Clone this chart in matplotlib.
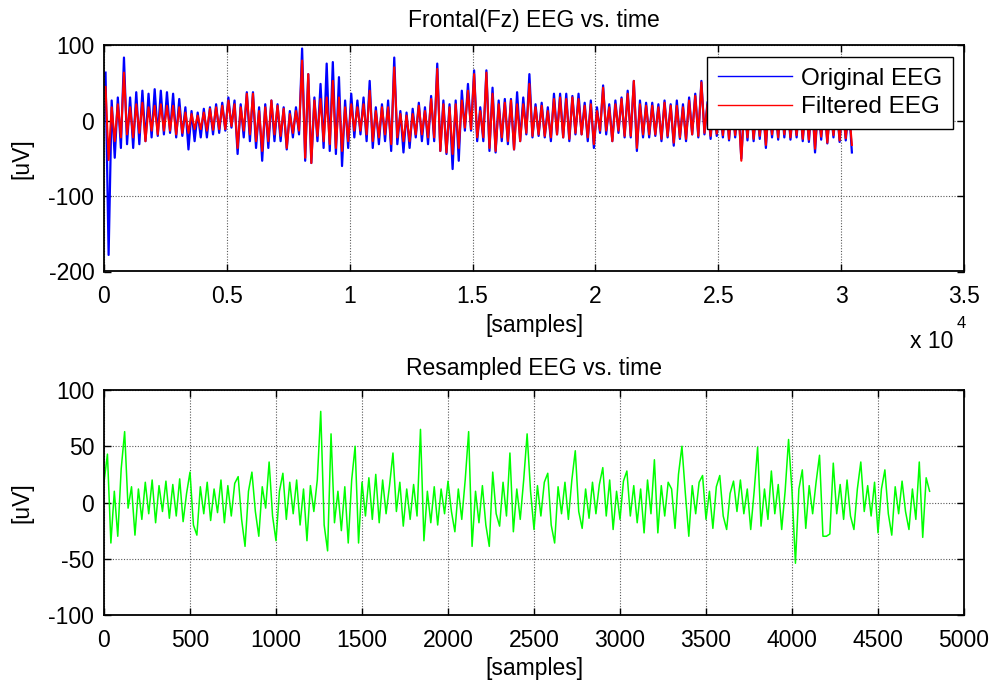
import numpy as np
import matplotlib
matplotlib.use('Agg')
import matplotlib.pyplot as plt

plt.rcParams['font.family'] = ['Liberation Sans', 'DejaVu Sans']
plt.rcParams['font.size'] = 16.5
plt.rcParams['axes.unicode_minus'] = False

# ---- top panel: envelope of the raw / filtered EEG, one hi/lo pair per 250 samples
bin_width = 250
blue_hi = [64, 27, 31, 84, 31, 38, 40, 36, 42, 40,
           38, 36, 29, 18, 13, 11, 16, 18, 22, 24,
           31, 27, 22, 38, 38, 18, 22, 27, 22, 18,
           13, 18, 96, 62, 31, 49, 76, 78, 58, 27,
           36, 27, 31, 53, 18, 22, 27, 84, 13, 11,
           16, 24, 18, 33, 76, 27, 22, 27, 40, 49,
           67, 18, 67, 44, 27, 29, 29, 38, 31, 62,
           22, 24, 18, 36, 36, 36, 33, 36, 24, 27,
           18, 47, 22, 27, 31, 40, 53, 27, 24, 24,
           22, 27, 22, 27, 22, 31, 36, 53,
           25, 28, 22, 30, 26, 24, 28, 31, 22, 25, 27, 24,
           29, 26, 23, 28, 25, 30, 24, 27, 22, 26, 24, 20]
blue_lo = [-178, -49, -36, -31, -36, -31, -27, -22, -20, -18,
           -16, -22, -20, -38, -27, -22, -22, -18, -16, -13,
           -9, -44, -22, -27, -36, -53, -36, -27, -27, -38,
           -22, -18, -53, -56, -27, -36, -40, -44, -60, -36,
           -22, -18, -27, -36, -31, -27, -40, -31, -42, -36,
           -22, -27, -31, -27, -40, -44, -64, -53, -13, -13,
           -27, -27, -40, -42, -27, -31, -38, -27, -18, -22,
           -20, -22, -27, -18, -22, -27, -18, -18, -27, -36,
           -16, -18, -27, -16, -22, -22, -40, -22, -22, -20,
           -27, -22, -33, -24, -27, -18, -22, -18,
           -24, -20, -22, -26, -22, -50, -26, -27, -24, -36, -22, -25,
           -22, -25, -22, -27, -28, -42, -25, -30, -22, -28, -26, -42]
red_hi = [45, 18, 22, 64, 18, 22, 24, 18, 20, 22,
          20, 20, 18, 11, 9, 7, 11, 16, 18, 20,
          27, 22, 18, 36, 36, 13, 18, 27, 20, 16,
          9, 13, 80, 62, 27, 29, 31, 53, 31, 18,
          22, 18, 22, 40, 13, 18, 18, 71, 9, 7,
          9, 20, 13, 29, 69, 22, 18, 22, 27, 40,
          62, 13, 64, 36, 22, 24, 27, 22, 22, 49,
          18, 20, 13, 29, 31, 29, 31, 29, 20, 22,
          13, 44, 18, 22, 29, 36, 53, 22, 20, 20,
          18, 24, 20, 20, 18, 27, 33, 51,
          22, 25, 20, 27, 23, 21, 25, 27, 20, 22, 24, 21,
          26, 23, 20, 25, 22, 27, 21, 24, 19, 23, 21, 18]
red_lo = [-52, -27, -22, -18, -22, -16, -27, -13, -18, -13,
          -13, -18, -16, -16, -11, -11, -13, -12, -11, -11,
          -7, -36, -13, -18, -27, -40, -27, -18, -20, -36,
          -16, -13, -49, -56, -20, -27, -31, -36, -40, -27,
          -13, -13, -18, -27, -22, -18, -31, -22, -27, -27,
          -18, -18, -22, -22, -40, -42, -44, -36, -9, -11,
          -22, -22, -36, -40, -22, -27, -38, -27, -16, -20,
          -18, -20, -22, -18, -22, -24, -16, -18, -22, -31,
          -13, -13, -27, -13, -20, -20, -36, -18, -18, -18,
          -24, -20, -29, -22, -24, -18, -20, -16,
          -20, -17, -19, -24, -19, -53, -22, -24, -20, -32, -18, -22,
          -18, -22, -19, -24, -25, -37, -21, -29, -19, -26, -23, -32]

# ---- bottom panel: resampled EEG, one value every 20 samples
resample_step = 20
green = [18, 43, -36, 10, -30, 30, 63, -5, 14, -29,
         12, -15, 18, -10, 20, -18, 15, -8, 19, -14,
         16, -12, 21, -17, 8, 27, -20, -29, 14, -10,
         18, -16, 12, -9, 20, -18, 15, -12, 17, 23,
         -15, -39, 10, 27, -8, -30, 14, -5, 36, -12,
         -34, 10, 26, -15, 18, -10, 20, -20, 12, -34,
         15, -8, 20, 81, -20, -43, 61, -18, 10, -25,
         14, -36, 20, 50, -36, 18, -12, 22, -15, 25,
         -18, 20, -10, 15, 44, -8, 18, -21, 12, -15,
         16, -12, 65, -34, 10, -18, 14, -20, 12, -10,
         19, -8, -26, 12, -15, 20, 63, -39, 10, -18,
         15, -20, -39, 27, -10, -21, 18, -12, 44, -26,
         12, -15, 20, 61, 10, -24, 15, -12, 18, 26,
         -20, -36, 14, -10, 18, -15, 20, 46, -8, -23,
         12, -14, 18, -10, 16, 31, -12, 20, -24, 10,
         -15, 19, 28, -12, 15, -18, 12, -27, 20, -10,
         38, -27, 15, -12, 18, 12, -23, 25, 50, 8,
         -30, 15, -10, 18, 24, -15, 10, -23, 14, 24,
         -12, -24, 8, 19, -8, 20, -10, 12, -24, 10,
         49, -21, 12, -15, 28, -10, 16, -24, 10, 56,
         10, -54, 12, 29, -23, 15, -10, 18, 42, -30,
         -30, -28, 35, -10, 16, -15, 20, -12, -24, 12,
         36, -8, 15, -12, 18, -27, 12, 29, -10, -29,
         14, -10, 19, -8, -24, 12, -15, 36, -31, 22, 10]

top_xticks = [0, 5000, 10000, 15000, 20000, 25000, 30000, 35000]
top_xticklabels = ['0', '0.5', '1', '1.5', '2', '2.5', '3', '3.5']
top_yticks = [-200, -100, 0, 100]
bot_xticks = list(range(0, 5001, 500))
bot_yticks = [-100, -50, 0, 50, 100]


def zigzag(hi, lo, width):
    # hi/lo of each bin -> one up and one down stroke per bin
    hi = np.asarray(hi, float)
    lo = np.asarray(lo, float)
    start = np.arange(len(hi)) * width
    x = np.column_stack([start + width * 0.25, start + width * 0.75]).ravel()
    y = np.column_stack([hi, lo]).ravel()
    return x, y


def matlab_axes(ax):
    for s in ax.spines.values():
        s.set_linewidth(1.3)
    ax.tick_params(direction='in', length=5, width=1, top=True, right=True,
                   labelsize=16.5)
    ax.tick_params(axis='x', pad=10)
    ax.tick_params(axis='y', pad=7)
    ax.grid(True, linestyle=(0, (1, 1.5)), color='0.35', linewidth=0.8)
    ax.set_axisbelow(True)


fig = plt.figure(figsize=(9.91, 6.84), dpi=100)

ax1 = fig.add_axes([104/991, 1 - 271.5/684, 860/991, 226/684])
xb, yb = zigzag(blue_hi, blue_lo, bin_width)
xr, yr = zigzag(red_hi, red_lo, bin_width)
ax1.plot(xb, yb, color='#0000ff', lw=1.6, label='Original EEG')
ax1.plot(xr, yr, color='#ff0000', lw=1.5, label='Filtered EEG')
ax1.set_xlim(0, 35000)
ax1.set_ylim(-200, 100)
ax1.set_xticks(top_xticks)
ax1.set_xticklabels(top_xticklabels)
ax1.set_yticks(top_yticks)
matlab_axes(ax1)
ax1.set_title('Frontal(Fz) EEG vs. time', fontsize=16.5, pad=13)
ax1.set_xlabel('[samples]', fontsize=16.5, labelpad=4)
ax1.set_ylabel('[uV]', fontsize=16.5, labelpad=11)
leg = ax1.legend(loc='upper right', bbox_to_anchor=(0.987, 0.949),
                 borderaxespad=0, fancybox=False, framealpha=1,
                 edgecolor='black', fontsize=17.5, handlelength=3.05,
                 handletextpad=0.37, labelspacing=0.25, borderpad=0.45)
leg.get_frame().set_linewidth(1.0)
for ln in leg.get_lines():
    ln.set_linewidth(1.0)
fig.text(910/991, 1 - 341/684, 'x 10', fontsize=16.5, va='center', ha='left')
fig.text(957/991, 1 - 323/684, '4', fontsize=12, va='center', ha='left')

ax2 = fig.add_axes([104/991, 1 - 615/684, 860/991, 225/684])
xg = np.arange(len(green)) * resample_step
ax2.plot(xg, green, color='#00ff00', lw=1.1)
ax2.set_xlim(0, 5000)
ax2.set_ylim(-100, 100)
ax2.set_xticks(bot_xticks)
ax2.set_yticks(bot_yticks)
matlab_axes(ax2)
ax2.set_title('Resampled EEG vs. time', fontsize=16.5, pad=11)
ax2.set_xlabel('[samples]', fontsize=16.5, labelpad=4)
ax2.set_ylabel('[uV]', fontsize=16.5, labelpad=11)

fig.savefig('out.png', dpi=100)
